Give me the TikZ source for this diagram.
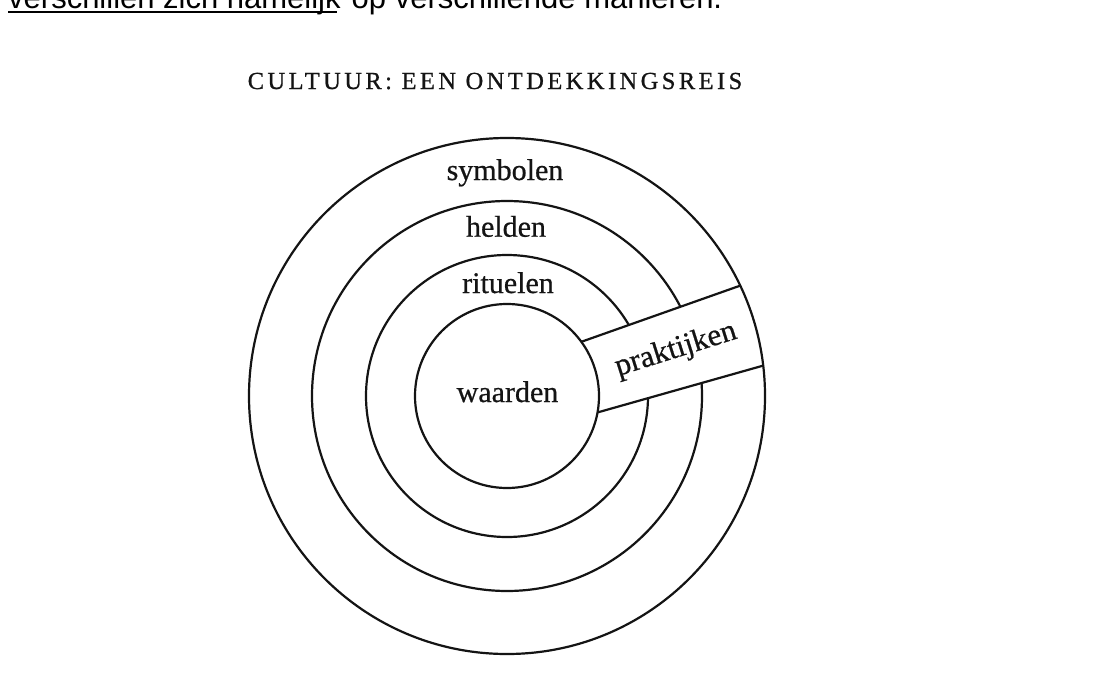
\documentclass[tikz,border=0pt]{standalone}
\usepackage{fontspec}
\setmainfont[FakeBold=0.6]{Liberation Serif}
\newfontfamily\topfont{Liberation Sans}
\newfontfamily\titlefont[LetterSpace=14,FakeBold=0.8]{Liberation Serif}
\begin{document}
\begin{tikzpicture}[x=1pt,y=-1pt,
  ring/.style={line width=2.2pt, black!92},
  lbl/.style={font=\fontsize{30}{31}\selectfont, inner sep=0pt, anchor=base, text=black!92}]
\useasboundingbox (0,0) rectangle (1097,688);
\fill[white] (0,0) rectangle (1097,688);
\coordinate (C) at (507,396);
% middle rings
\draw[ring] (C) circle (141pt);
\draw[ring] (C) circle (195pt);
% band of practices
\coordinate (u1) at (540,356.4);
\coordinate (u2) at (800,264.5);
\coordinate (l1) at (540,428.7);
\coordinate (l2) at (800,355.2);
\fill[white] (u1) -- (u2) -- (l2) -- (l1) -- cycle;
\draw[ring] (u1) -- (u2);
\draw[ring] (l1) -- (l2);
\fill[white] (C) circle (92pt);
\fill[white, even odd rule] (0,0) rectangle (1097,688) (C) circle (258pt);
\draw[ring] (C) circle (92pt);
\draw[ring] (C) circle (258pt);
% labels
\node[lbl] (sym) at (505,180) {symbolen};
\node[lbl] (held) at (506,236.7) {helden};
\node[lbl] (rit) at (508,293) {rituelen};
\node[lbl] (waar) at (507.5,402) {waarden};
\node[lbl, font=\fontsize{31}{32}\selectfont, anchor=center, rotate=17.5] (prak) at (676,350) {praktijken};
% title
\node[font=\titlefont\fontsize{24.5}{25}\selectfont, anchor=base, inner sep=0pt, text=black!92] (title) at (495,89) {CULTUUR: EEN ONTDEKKINGSREIS};
% cut-off line of text at the top
\node[font=\topfont\fontsize{31}{31}\selectfont, anchor=base west, inner sep=0pt] (ul) at (8,9) {verschillen zich namelijk};
\node[font=\topfont\fontsize{31}{31}\selectfont, anchor=base west, inner sep=0pt] (rest) at ([xshift=2pt]ul.base east) {\ op verschillende manieren.};
\draw[line width=2pt] ([yshift=-3pt]ul.base west) -- ([yshift=-3pt,xshift=-4pt]ul.base east);
\end{tikzpicture}
\end{document}
